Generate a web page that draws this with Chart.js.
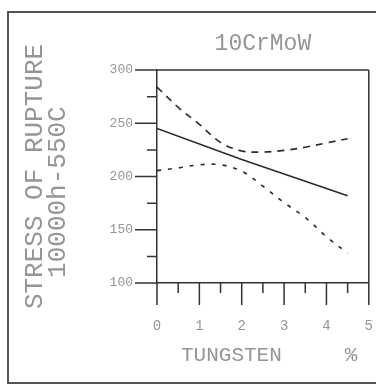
<!DOCTYPE html>
<html>
<head>
<meta charset="utf-8">
<script src="https://cdn.jsdelivr.net/npm/chart.js@4.4.0/dist/chart.umd.min.js"></script>
<style>
  html, body { margin: 0; padding: 0; background: #fff; }
  #wrap { width: 376px; height: 387px; }
</style>
</head>
<body>
<div id="wrap"><canvas id="c" width="376" height="387"></canvas></div>
<script>
// ---- data ----
const chartTitle = "10CrMoW";
const xTitle = " TUNGSTEN     %";
const yTitle = ["STRESS OF RUPTURE", "10000h-550C  "];

const xTicks = [0, 1, 2, 3, 4, 5];
const xMinorTicks = [0.5, 1.5, 2.5, 3.5, 4.5];
const yTicks = [100, 150, 200, 250, 300];
const yMinorTicks = [125, 175, 225, 275];

const meanX = [0, 2, 4.5];
const meanY = [245, 216, 182];

const upperX = [0, 0.5, 1, 1.5, 2, 2.5, 3, 3.5, 4, 4.5];
const upperY = [284, 265, 249, 232, 224, 223, 224.5, 227.5, 231.5, 235.5];

const lowerX = [0, 0.5, 1, 1.5, 2, 2.5, 3, 3.5, 4, 4.5];
const lowerY = [205.5, 208, 211, 211, 205, 191, 175.5, 161.5, 143.5, 128];

// ---- helpers ----
const pts = (xs, ys) => xs.map((x, i) => ({ x: x, y: ys[i] }));
const MONO = "'Liberation Mono', 'DejaVu Sans Mono', monospace";
const TEXT = '#959595';
const INK = '#333333';

const frameTicks = {
  id: 'frameTicks',
  afterDraw(chart) {
    const ctx = chart.ctx;
    const a = chart.chartArea;
    const xs = chart.scales.x, ys = chart.scales.y;
    ctx.save();
    ctx.strokeStyle = INK;
    ctx.lineWidth = 1.5;
    ctx.beginPath();
    ctx.moveTo(a.left, a.top); ctx.lineTo(a.right, a.top);
    ctx.moveTo(a.right, a.top); ctx.lineTo(a.right, a.bottom);
    yTicks.forEach(v => { const p = ys.getPixelForValue(v); ctx.moveTo(a.left - 22, p); ctx.lineTo(a.left, p); });
    yMinorTicks.forEach(v => { const p = ys.getPixelForValue(v); ctx.moveTo(a.left - 10, p); ctx.lineTo(a.left, p); });
    xTicks.forEach(v => { const p = xs.getPixelForValue(v); ctx.moveTo(p, a.bottom); ctx.lineTo(p, a.bottom + 22); });
    xMinorTicks.forEach(v => { const p = xs.getPixelForValue(v); ctx.moveTo(p, a.bottom); ctx.lineTo(p, a.bottom + 10); });
    ctx.stroke();
    ctx.strokeStyle = '#555';
    ctx.lineWidth = 2;
    ctx.strokeRect(8, 12, 400, 371);
    ctx.restore();
  }
};

new Chart(document.getElementById('c'), {
  type: 'scatter',
  data: {
    datasets: [
      { label: 'mean', data: pts(meanX, meanY), showLine: true, borderColor: '#2a2a2a', borderWidth: 1.5, pointRadius: 0, tension: 0 },
      { label: 'upper', data: pts(upperX, upperY), showLine: true, borderColor: '#2a2a2a', borderWidth: 1.6, borderDash: [7, 6], pointRadius: 0, tension: 0.35 },
      { label: 'lower', data: pts(lowerX, lowerY), showLine: true, borderColor: '#2a2a2a', borderWidth: 1.6, borderDash: [4, 7], pointRadius: 0, tension: 0.35 }
    ]
  },
  options: {
    responsive: false,
    animation: false,
    devicePixelRatio: 1,
    layout: { padding: { left: 0, right: 4, top: 0, bottom: 0 } },
    plugins: {
      legend: { display: false },
      tooltip: { enabled: false },
      title: {
        display: true,
        fullSize: false,
        text: chartTitle,
        color: TEXT,
        font: { family: MONO, size: 23, weight: 'normal', lineHeight: 1.2 },
        padding: { top: 30, bottom: 12.4 }
      }
    },
    scales: {
      x: {
        type: 'linear',
        min: 0, max: 5,
        afterBuildTicks: s => { s.ticks = xTicks.map(v => ({ value: v })); },
        afterFit: s => { s.height = 104; },
        grid: { display: true, drawOnChartArea: false, drawTicks: true, tickLength: 32, tickColor: 'rgba(0,0,0,0)' },
        border: { display: true, color: INK, width: 1.5 },
        ticks: { color: TEXT, padding: 3, font: { family: MONO, size: 14 }, maxRotation: 0 },
        title: {
          display: true, text: xTitle, color: TEXT,
          font: { family: MONO, size: 21, weight: 'normal', lineHeight: 1.2 },
          padding: { top: 0, bottom: 19.4 }
        }
      },
      y: {
        type: 'linear',
        min: 100, max: 300,
        afterBuildTicks: s => { s.ticks = yTicks.map(v => ({ value: v })); },
        afterFit: s => { s.width = 157; },
        grid: { display: true, drawOnChartArea: false, drawTicks: true, tickLength: 21, tickColor: 'rgba(0,0,0,0)' },
        border: { display: true, color: INK, width: 1.5 },
        ticks: { color: TEXT, padding: 3, font: { family: MONO, size: 13 } },
        title: {
          display: true, text: yTitle, color: TEXT,
          font: { family: MONO, size: 26, weight: 'normal', lineHeight: '23px' },
          padding: { top: 23.5, bottom: 0 }
        }
      }
    }
  },
  plugins: [frameTicks]
});
</script>
</body>
</html>
